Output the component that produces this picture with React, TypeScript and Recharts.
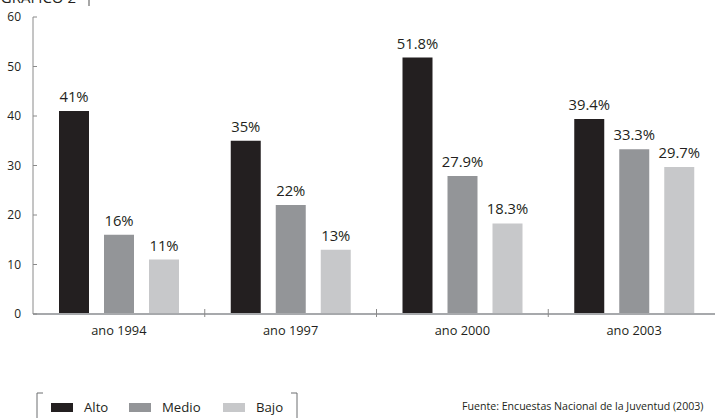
import React from 'react';
import { BarChart, Bar, XAxis, YAxis, LabelList } from 'recharts';

const categories = ['ano 1994', 'ano 1997', 'ano 2000', 'ano 2003'];
const alto = [41, 35, 51.8, 39.4];
const medio = [16, 22, 27.9, 33.3];
const bajo = [11, 13, 18.3, 29.7];
const yTicks = [0, 10, 20, 30, 40, 50, 60];
const seriesNames = ['Alto', 'Medio', 'Bajo'];
const colors = ['#231f20', '#939598', '#c7c8ca'];
const titleText = 'GRÁFICO 2';
const sourceText = 'Fuente: Encuestas Nacional de la Juventud (2003)';

const data = categories.map((c, i) => ({ cat: c, Alto: alto[i], Medio: medio[i], Bajo: bajo[i] }));

const FONT = '"Open Sans", Lato, sans-serif';
const TEXT = '#231f20';

const YTick = (props: any) => {
  const { x, y, payload } = props;
  return (
    <g>
      <line x1={x} x2={x + 4} y1={y} y2={y} stroke="#8a8a8a" strokeWidth={1} />
      <text x={x - 12} y={y} dy={4} textAnchor="end" fontSize={12} fill={TEXT} fontFamily={FONT}>
        {payload.value}
      </text>
    </g>
  );
};

const XTick = (props: any) => {
  const { x, y, payload, index } = props;
  const half = payload.offset || 85.9;
  return (
    <g>
      {index > 0 && (
        <line x1={x - half} x2={x - half} y1={y - 5} y2={y + 3} stroke="#8a8a8a" strokeWidth={1} />
      )}
      <text x={x} y={y} dy={21} textAnchor="middle" fontSize={12.8} fill={TEXT} fontFamily={FONT}>
        {payload.value}
      </text>
    </g>
  );
};

const legendX = [51, 129, 223];

export default function App() {
  return (
    <div style={{ position: 'absolute', left: 0, top: 0, width: 715, height: 418, overflow: 'hidden', background: '#fff' }}>
      <BarChart
        width={720}
        height={418}
        data={data}
        margin={{ top: 17, right: 0, left: 0, bottom: 74 }}
        barSize={30}
        barGap={15}
      >
        <XAxis
          dataKey="cat"
          height={30}
          tickSize={0}
          tickMargin={0}
          tickLine={false}
          axisLine={{ stroke: '#a7a9ac', strokeWidth: 2 }}
          tick={<XTick />}
          interval={0}
        />
        <YAxis
          width={33}
          domain={[0, 60]}
          ticks={yTicks}
          tickSize={0}
          tickMargin={0}
          tickLine={false}
          axisLine={{ stroke: '#8a8a8a', strokeWidth: 1 }}
          tick={<YTick />}
          interval={0}
        />
        {seriesNames.map((s, i) => (
          <Bar key={s} dataKey={s} fill={colors[i]} isAnimationActive={false}>
            <LabelList
              dataKey={s}
              position="top"
              offset={9}
              formatter={(v: any) => `${v}%`}
              fill={TEXT}
              fontSize={14.8}
              fontFamily={FONT}
            />
          </Bar>
        ))}
      </BarChart>
      <svg width={715} height={418} style={{ position: 'absolute', left: 0, top: 0, pointerEvents: 'none' }}>
        <text x={76} y={3} textAnchor="end" fontSize={15} fill={TEXT} fontFamily={FONT}>{titleText}</text>
        <line x1={89} x2={89} y1={0} y2={6} stroke="#8a8a8a" strokeWidth={1.5} />
        <polyline points="43,393 37,393 37,418" fill="none" stroke="#6d6e71" strokeWidth={1} />
        <polyline points="291,393 297,393 297,418" fill="none" stroke="#6d6e71" strokeWidth={1} />
        {seriesNames.map((s, i) => (
          <g key={s}>
            <rect x={legendX[i]} y={403} width={22} height={9} fill={colors[i]} />
            <text x={legendX[i] + 33} y={412} fontSize={13.2} fill={TEXT} fontFamily={FONT}>{s}</text>
          </g>
        ))}
        <text x={462} y={410} fontSize={10.6} fill={TEXT} fontFamily={FONT}>{sourceText}</text>
      </svg>
    </div>
  );
}
